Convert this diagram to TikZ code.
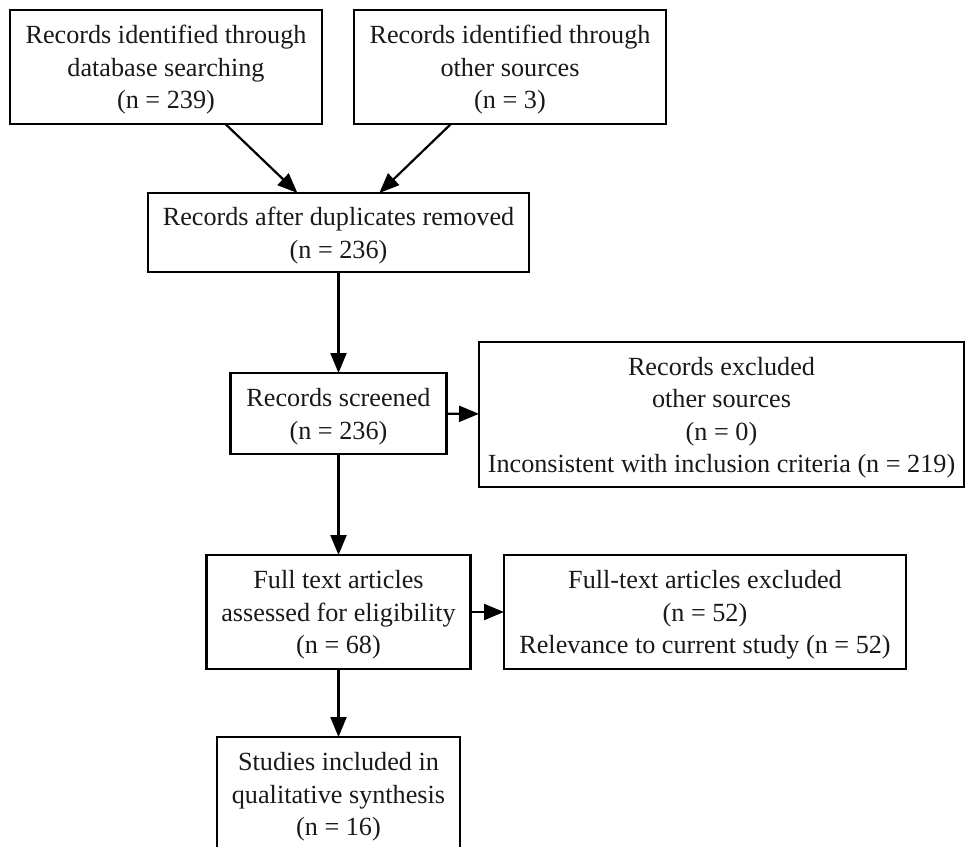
\documentclass[tikz,border=0pt]{standalone}
\usepackage{fontspec}
\setmainfont{Liberation Serif}
\usetikzlibrary{arrows.meta}
\definecolor{txt}{RGB}{25,25,25}
\begin{document}
\begin{tikzpicture}[x=1pt,y=-1pt,
  box/.style={draw, line width=2.3pt, outer sep=0pt, inner sep=0pt},
  lbl/.style={align=center, inner sep=0pt, yshift=-3pt, text=txt,
    font=\fontsize{26.2}{32.5}\selectfont},
  arr/.style={line width=2.2pt, -{Triangle[length=20pt,width=16pt]}}]
\useasboundingbox (0,0) rectangle (966,846);
\clip (0,0) rectangle (966,846);
\node[box, minimum width=312pt, minimum height=114pt,
  label={[lbl]center:Records identified through\\database searching\\(n = 239)}] (A) at (166,67) {};
\node[box, minimum width=312pt, minimum height=114pt,
  label={[lbl]center:Records identified through\\other sources\\(n = 3)}] (B) at (510,67) {};
\node[box, minimum width=381pt, minimum height=79pt,
  label={[lbl]center:Records after duplicates removed\\(n = 236)}] (C) at (338.5,232.5) {};
\node[box, minimum width=216pt, minimum height=81pt,
  label={[lbl]center:Records screened\\(n = 236)}] (D) at (338.5,413.5) {};
\node[box, minimum width=485pt, minimum height=145pt,
  label={[lbl]center:Records excluded\\other sources\\(n = 0)\\Inconsistent with inclusion criteria (n = 219)}] (E) at (721.5,414.5) {};
\node[box, minimum width=264pt, minimum height=114pt,
  label={[lbl]center:Full text articles\\assessed for eligibility\\(n = 68)}] (F) at (338.5,612) {};
\node[box, minimum width=402pt, minimum height=114pt,
  label={[lbl]center:Full-text articles excluded\\(n = 52)\\Relevance to current study (n = 52)}] (G) at (705,612) {};
\node[box, minimum width=243pt, minimum height=114pt,
  label={[lbl]center:Studies included in\\qualitative synthesis\\(n = 16)}] (H) at (338.5,794) {};
\draw[arr] (A) -- (C);
\draw[arr] (B) -- (C);
\draw[arr] (C) -- (D);
\draw[arr] (D) -- (E);
\draw[arr] (D) -- (F);
\draw[arr] (F) -- (G);
\draw[arr] (F) -- (H);
\end{tikzpicture}
\end{document}
